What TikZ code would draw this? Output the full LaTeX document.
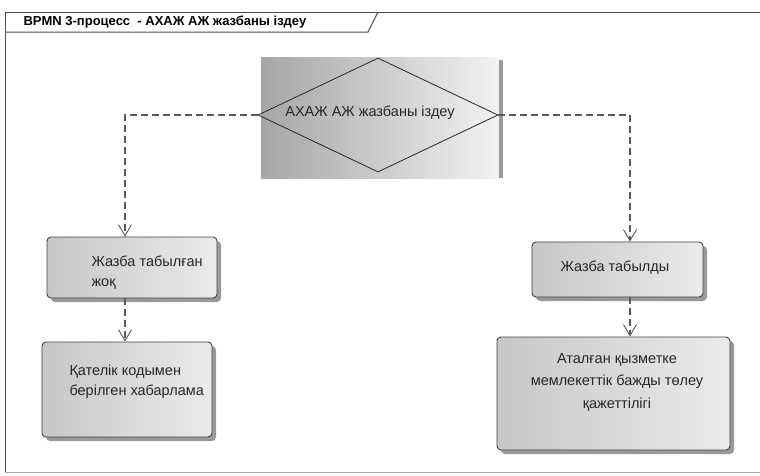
\documentclass[tikz,border=0pt]{standalone}
\usepackage{fontspec}
\setmainfont{Liberation Sans}
\usetikzlibrary{shapes.geometric,arrows.meta,shadows}
\begin{document}
\begin{tikzpicture}[x=1pt,y=-1pt,
  frameline/.style={draw=black!70,line width=1pt},
  task/.style={draw=black!75,rounded corners=4pt,line width=0.9pt,
    left color=black!22,right color=black!8,
    drop shadow={shadow xshift=4pt,shadow yshift=-4pt,fill=black!40,opacity=1}},
  txt/.style={font=\fontsize{14.5}{20}\selectfont,text=black!85},
  flow/.style={draw=black!65,line width=1.1pt,dash pattern=on 7pt off 4pt,
    -{Straight Barb[length=11pt,width=13pt,line width=0.9pt]}}
]
\useasboundingbox (0,0) rectangle (760,475);
% frame
\draw[frameline] (5,472) -- (5,12) -- (760,12);
\draw[draw=black!35,line width=0.8pt] (5,472) -- (760,472);
\draw[frameline] (5,32) -- (368,32) -- (378,12);
\node[anchor=west,font=\bfseries\fontsize{13}{15}\selectfont] (title) at (20,22)
  {BPMN 3-процесс \ - АХАЖ АЖ жазбаны іздеу};
% gateway background
\shade[left color=black!35,right color=black!5] (261,57) rectangle (499,178);
\fill[black!40] (499,60) rectangle (503,178);
\node[diamond,draw=black!85,line width=0.8pt,minimum width=240,minimum height=114,
  inner sep=0pt,aspect=2.1] (dia) at (378,115) {};
\node[txt] (diatxt) at (370,113) {АХАЖ АЖ жазбаны іздеу};
% tasks
\node[task,minimum width=170,minimum height=61] (nf) at (132,267.5) {};
\node[txt,anchor=west,align=left] (nftxt) at (88,273) {Жазба табылған\\жоқ};
\node[task,minimum width=170,minimum height=95] (err) at (127,389.5) {};
\node[txt,anchor=west,align=left] (errtxt) at (66,382) {Қателік кодымен\\берілген хабарлама};
\node[task,minimum width=171,minimum height=55] (fd) at (617.5,269.5) {};
\node[txt] (fdtxt) at (615,268) {Жазба табылды};
\node[task,minimum width=233,minimum height=113] (pay) at (613.5,393.5) {};
\node[txt,align=center,font=\fontsize{14.5}{22.5}\selectfont] (paytxt) at (617,382)
  {Аталған қызметке\\мемлекеттік бажды төлеу\\қажеттілігі};
% connectors
\coordinate (lx) at (125,0);
\coordinate (rx) at (630,0);
\draw[flow] (dia.west) -| (lx |- nf.north);
\draw[flow] (lx |- nf.south) -- (lx |- err.north);
\draw[flow] (dia.east) -| (rx |- fd.north);
\draw[flow] (rx |- fd.south) -- (rx |- pay.north);
\end{tikzpicture}
\end{document}
